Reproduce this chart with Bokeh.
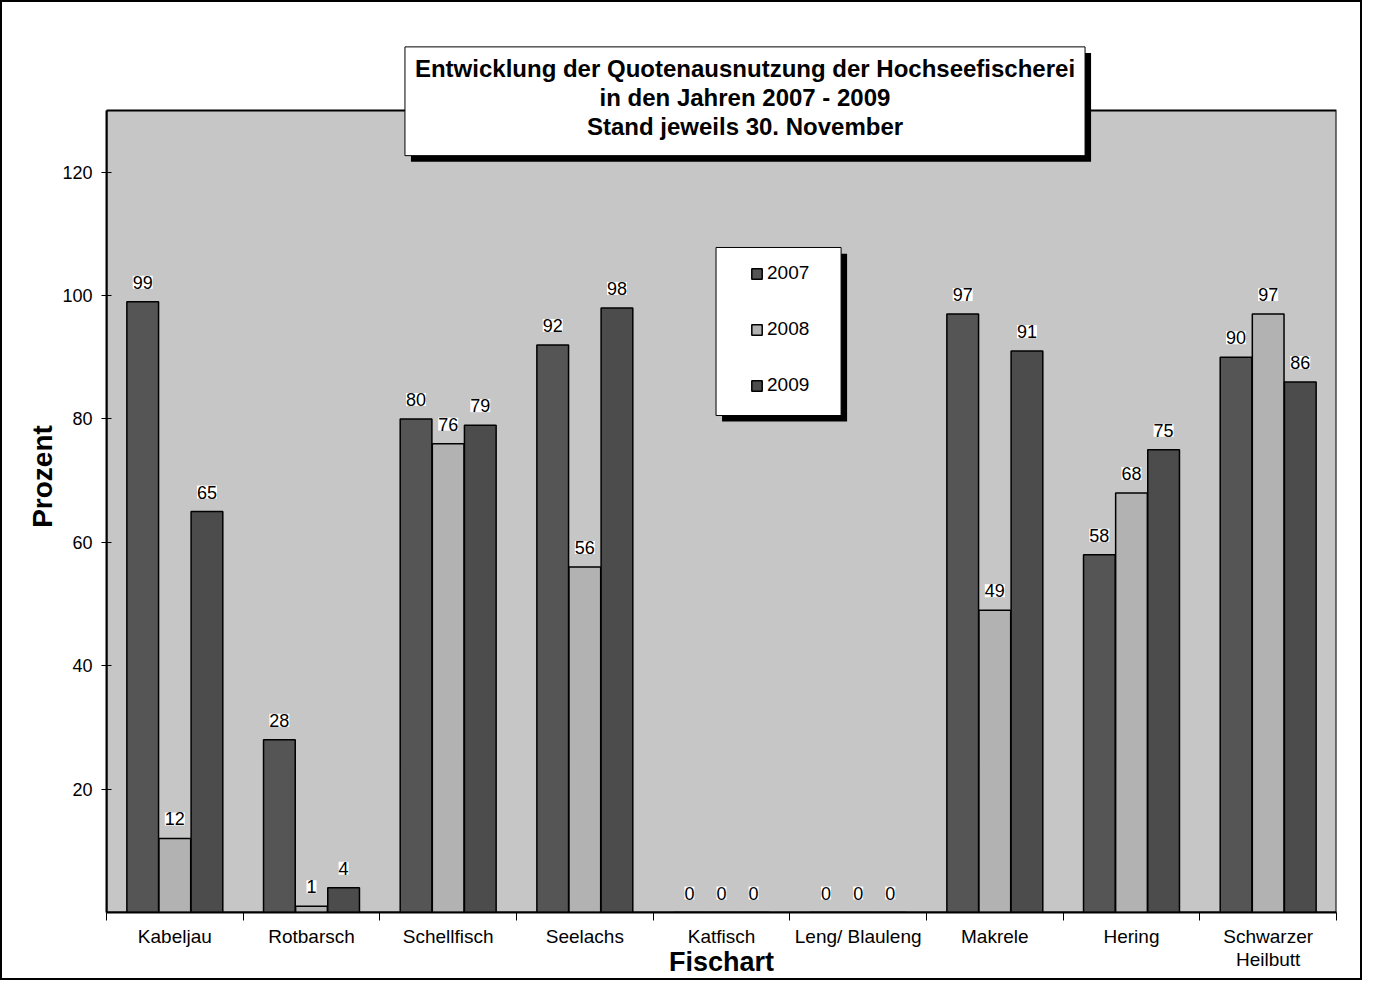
import numpy as np
from bokeh.plotting import figure
from bokeh.models import (ColumnDataSource, FixedTicker, Range1d, LabelSet, Label,
                          Legend, LegendItem, BoxAnnotation, Title)
from bokeh.embed import file_html
from bokeh.resources import INLINE
from bokeh.core.properties import value

# ---------------- data ----------------
categories = ["Kabeljau", "Rotbarsch", "Schellfisch", "Seelachs", "Katfisch",
              "Leng/ Blauleng", "Makrele", "Hering", "Schwarzer\nHeilbutt"]
years = ["2007", "2008", "2009"]
v2007 = [99, 28, 80, 92, 0, 0, 97, 58, 90]
v2008 = [12, 1, 76, 56, 0, 0, 49, 68, 97]
v2009 = [65, 4, 79, 98, 0, 0, 91, 75, 86]
y_ticks = [20, 40, 60, 80, 100, 120]
y_max = 130
title_text = ("Entwicklung der Quotenausnutzung der Hochseefischerei\n"
              "in den Jahren 2007 - 2009\n"
              "Stand jeweils 30. November")

FONT = "Liberation Sans"

p = figure(width=1362, height=980, output_backend="svg", toolbar_location=None,
           x_range=Range1d(0, len(categories)), y_range=Range1d(0, 141.35),
           min_border_left=104, min_border_right=28, min_border_top=38,
           min_border_bottom=70)
p.styles = {"border": "2px solid black"}
p.background_fill_color = "white"
p.border_fill_color = "white"
p.outline_line_color = None
p.grid.visible = False

# plot area (grey panel up to y_max)
p.add_layout(BoxAnnotation(left=0, right=len(categories), bottom=0, top=y_max,
                           fill_color="#c6c6c6", fill_alpha=1.0,
                           line_color="black", line_alpha=1.0, line_width=2,
                           level="underlay"))

centers = [float(c) for c in np.arange(len(categories)) + 0.5]
offsets = [-0.235, 0.0, 0.235]
colors = ["#555555", "#b2b2b2", "#4c4c4c"]
series = [v2007, v2008, v2009]

items = []
for yr, vals, off, col in zip(years, series, offsets, colors):
    src = ColumnDataSource(dict(x=[c + off for c in centers], top=vals,
                                lbl=[str(v) for v in vals]))
    r = p.vbar(x="x", top="top", width=0.232, source=src, fill_color=col,
               line_color="black", line_width=1.5)
    items.append(LegendItem(label=yr, renderers=[r]))
    ls = LabelSet(x="x", y="top", text="lbl", source=src, text_align="center",
                  text_baseline="bottom", y_offset=13, text_font=value(FONT),
                  text_font_size="18px", text_color="black",
                  background_fill_color="white")
    p.add_layout(ls)

# x axis
xa = p.xaxis[0]
xa.ticker = FixedTicker(ticks=centers, minor_ticks=list(range(len(categories) + 1)))
xa.major_label_overrides = {c: lab for c, lab in zip(centers, categories)}
xa.major_tick_line_color = None
xa.major_tick_out = 8
xa.major_tick_in = 0
xa.minor_tick_out = 8
xa.minor_tick_in = 0
xa.minor_tick_line_color = "black"
xa.axis_line_width = 2
xa.axis_line_color = "black"
xa.major_label_text_font = FONT
xa.major_label_text_font_size = "19px"
xa.major_label_text_color = "black"
xa.major_label_text_line_height = 1.1
xa.major_label_standoff = 5
xa.axis_label = "Fischart"
xa.axis_label_text_font = FONT
xa.axis_label_text_font_size = "27px"
xa.axis_label_text_font_style = "bold"
xa.axis_label_text_color = "black"
xa.axis_label_standoff = -26

# y axis
ya = p.yaxis[0]
ya.ticker = FixedTicker(ticks=y_ticks)
ya.bounds = (0, y_max)
ya.major_tick_in = 5
ya.major_tick_out = 5
ya.minor_tick_line_color = None
ya.axis_line_width = 2
ya.axis_line_color = "black"
ya.major_label_text_font = FONT
ya.major_label_text_font_size = "18px"
ya.major_label_text_color = "black"
ya.major_label_standoff = 9

# y axis title, centred on the grey plot area rather than the whole frame
p.add_layout(Title(text="Prozent", align="center", offset=-36, standoff=4,
                   text_font=FONT, text_font_size="28px",
                   text_font_style="bold", text_color="black"), "left")

# title box with shadow
common = dict(x=4.672, y=131.5, text=title_text, text_align="center",
              text_baseline="middle", text_font=FONT, text_font_size="24px",
              text_font_style="bold", text_line_height=1.07,
              padding=dict(left=10, right=10, top=8, bottom=16))
p.add_layout(Label(x_offset=6, y_offset=-6, text_color="black",
                   background_fill_color="black", **common))
p.add_layout(Label(text_color="black", background_fill_color="white",
                   border_line_color="black", border_line_width=1, **common))

# legend box with shadow, then legend items
p.add_layout(BoxAnnotation(left=4.504, right=5.419, top=106.8, bottom=79.6,
                           fill_color="black", fill_alpha=1.0, line_color=None))
p.add_layout(BoxAnnotation(left=4.460, right=5.375, top=107.8, bottom=80.56,
                           fill_color="white", fill_alpha=1.0,
                           line_color="black", line_alpha=1.0, line_width=1))
legend = Legend(items=items, location=(644, 516), margin=0, padding=10,
                spacing=34, glyph_width=13, glyph_height=13,
                label_standoff=4, label_text_font=FONT,
                label_text_font_size="19px", label_text_color="black",
                border_line_color=None, background_fill_alpha=0.0)
p.add_layout(legend)

open("out.html", "w").write(file_html(p, INLINE))
